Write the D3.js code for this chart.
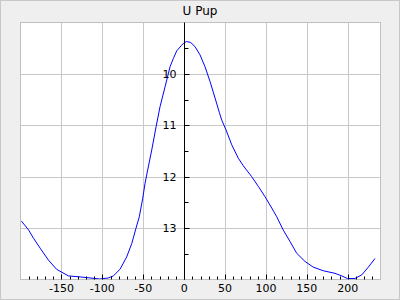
<!DOCTYPE html>
<html>
<head>
<meta charset="utf-8">
<script src="https://cdn.jsdelivr.net/npm/d3@7"></script>
<style>
  body { margin: 0; background: #fff; }
  svg { display: block; font-family: "DejaVu Sans", sans-serif; }
</style>
</head>
<body>
<div id="chart"></div>
<script>
var title = "U Pup";

// phase (days) and magnitude
var phase = [-199, -190, -184, -176, -166, -156, -141.5, -127, -115, -103, -92.6, -86.5, -78.3,
  -70.2, -64, -58.8, -54.8, -50.6, -47.8, -43.8, -39.6, -34.3, -29.5, -23.3, -17.2, -13.2, -9,
  -2.9, 0.2, 3.2, 8.1, 13.3, 19.4, 25.5, 31.7, 37.8, 43, 46, 51.2, 58.2, 66.2, 72.4, 82.6, 90.7,
  98.9, 107.1, 113.2, 121.2, 129.4, 137.6, 147.8, 157.9, 170.1, 184.4, 192.6, 199.5, 208.9,
  217.1, 225.1, 233.3];
var mag = [12.86, 13.04, 13.2, 13.39, 13.62, 13.8, 13.93, 13.95, 13.97, 13.99, 13.97, 13.93, 13.8,
  13.56, 13.3, 13.0, 12.78, 12.42, 12.13, 11.81, 11.48, 11.03, 10.64, 10.25, 9.86, 9.7, 9.55,
  9.44, 9.39, 9.37, 9.39, 9.47, 9.63, 9.86, 10.15, 10.47, 10.75, 10.9, 11.09, 11.38, 11.64, 11.79,
  12.0, 12.19, 12.39, 12.61, 12.78, 13.04, 13.26, 13.49, 13.65, 13.76, 13.83, 13.88, 13.93, 13.98,
  13.98, 13.91, 13.76, 13.59];

var xTicks = [-150, -100, -50, 0, 50, 100, 150, 200];
var yTicks = [10, 11, 12, 13];

var W = 400, H = 300;
var pLeft = 20.5, pRight = 380.5, pTop = 22.5, pBottom = 279.5;

var svg = d3.select("#chart").append("svg")
    .attr("width", W)
    .attr("height", H);

// outer background + border
svg.append("rect")
    .attr("x", 0.5).attr("y", 0.5)
    .attr("width", W - 1).attr("height", H - 1)
    .attr("fill", "#efefef")
    .attr("stroke", "#c8c8c8");

var x = d3.scaleLinear().domain([-200, 240]).range([pLeft, pRight]);
var y = d3.scaleLinear().domain([9, 14]).range([pTop, pBottom]);

svg.append("rect")
    .attr("x", pLeft).attr("y", pTop)
    .attr("width", pRight - pLeft).attr("height", pBottom - pTop)
    .attr("fill", "#fff");

// grid
var grid = svg.append("g").attr("stroke", "#c8c8c8").attr("stroke-width", 1);
grid.selectAll(".gx").data(xTicks).enter().append("line")
    .attr("x1", function(d) { return Math.round(x(d)) + 0.5; })
    .attr("x2", function(d) { return Math.round(x(d)) + 0.5; })
    .attr("y1", pTop).attr("y2", pBottom);
grid.selectAll(".gy").data(yTicks).enter().append("line")
    .attr("y1", function(d) { return Math.round(y(d)) + 0.5; })
    .attr("y2", function(d) { return Math.round(y(d)) + 0.5; })
    .attr("x1", pLeft).attr("x2", pRight);

// curve
svg.append("clipPath").attr("id", "clip").append("rect")
    .attr("x", pLeft).attr("y", pTop)
    .attr("width", pRight - pLeft).attr("height", pBottom - pTop);

var line = d3.line()
    .x(function(d) { return x(d[0]); })
    .y(function(d) { return y(d[1]); });

svg.append("path")
    .datum(d3.zip(phase, mag))
    .attr("clip-path", "url(#clip)")
    .attr("fill", "none")
    .attr("stroke", "#0000ff")
    .attr("stroke-width", 1)
    .attr("d", line);

// frame
svg.append("rect")
    .attr("x", pLeft).attr("y", pTop)
    .attr("width", pRight - pLeft).attr("height", pBottom - pTop)
    .attr("fill", "none")
    .attr("stroke", "#c0c0c0");

// bottom ticks (inside, every 10)
var minorX = d3.range(-190, 240, 10);
svg.append("g").attr("stroke", "#000").selectAll("line")
    .data(minorX).enter().append("line")
    .attr("x1", function(d) { return Math.round(x(d)) + 0.5; })
    .attr("x2", function(d) { return Math.round(x(d)) + 0.5; })
    .attr("y1", pBottom)
    .attr("y2", function(d) { return pBottom - (d % 50 === 0 ? 5 : 3); });

svg.append("g").selectAll("text")
    .data(xTicks).enter().append("text")
    .attr("x", function(d) { return x(d); })
    .attr("y", 292)
    .attr("text-anchor", "middle")
    .attr("font-size", 11)
    .attr("fill", "#000")
    .text(function(d) { return d; });

// y axis at phase 0
var x0 = Math.round(x(0)) + 0.5;
svg.append("line")
    .attr("x1", x0).attr("x2", x0)
    .attr("y1", pTop).attr("y2", pBottom)
    .attr("stroke", "#000");

var minorY = d3.range(9.5, 14, 0.5);
svg.append("g").attr("stroke", "#000").selectAll("line")
    .data(minorY).enter().append("line")
    .attr("y1", function(d) { return Math.round(y(d)) + 0.5; })
    .attr("y2", function(d) { return Math.round(y(d)) + 0.5; })
    .attr("x1", x0)
    .attr("x2", function(d) { return x0 + (d % 1 === 0 ? 5 : 4); });

svg.append("g").selectAll("text")
    .data(yTicks).enter().append("text")
    .attr("x", x0 - 8)
    .attr("y", function(d) { return y(d) + 4; })
    .attr("text-anchor", "end")
    .attr("font-size", 11)
    .attr("fill", "#000")
    .text(function(d) { return d; });

// title
svg.append("text")
    .attr("x", W / 2)
    .attr("y", 15)
    .attr("text-anchor", "middle")
    .attr("font-size", 12)
    .attr("fill", "#000")
    .text(title);
</script>
</body>
</html>
